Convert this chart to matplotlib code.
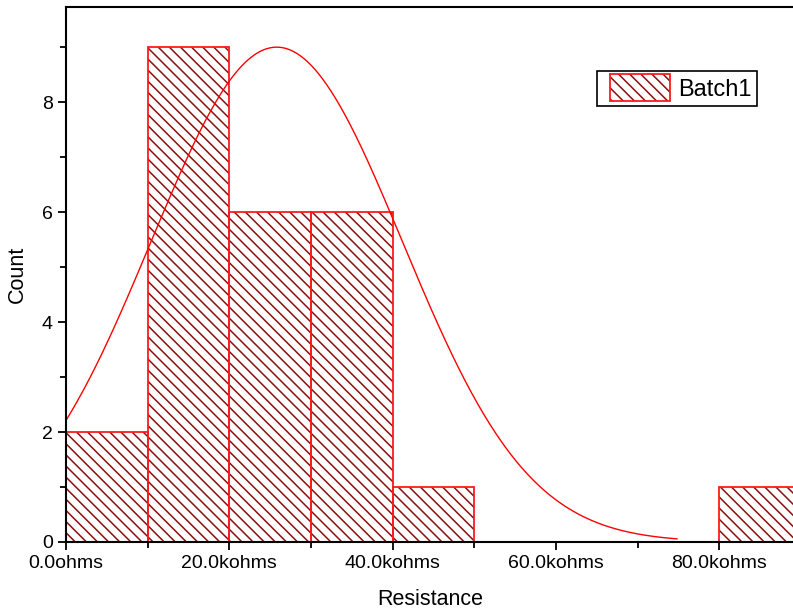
import numpy as np
import matplotlib.pyplot as plt
from matplotlib.patches import Rectangle
from matplotlib.ticker import MultipleLocator, FixedLocator, FixedFormatter

plt.rcParams['font.family'] = ['Liberation Sans', 'DejaVu Sans']
plt.rcParams['hatch.linewidth'] = 1.1

# histogram bins (kohms) and counts
bin_left = [0, 10, 20, 30, 40, 80]
bin_width = 10
counts = [2, 9, 6, 6, 1, 1]

# fitted normal curve parameters
fit_mean = 25.8
fit_sd = 15.4
fit_peak = 9.0
fit_range = (0, 74.8)

xtick_vals = [0, 20, 40, 60, 80]
xtick_labels = ["0.0ohms", "20.0kohms", "40.0kohms", "60.0kohms", "80.0kohms"]

HATCH_COLOR = '#8b0f0f'
EDGE_COLOR = '#ff1a1a'
HATCH = '\\\\\\'

fig = plt.figure(figsize=(7.93, 6.16), dpi=100)
ax = fig.add_axes([66 / 793, 74 / 616, 1 - 66 / 793 + 0.002, 535 / 616])

# hatched fill in dark red, outline in bright red
bars = ax.bar(bin_left, counts, width=bin_width, align='edge', facecolor='white',
              edgecolor=HATCH_COLOR, linewidth=0, hatch=HATCH, label='Batch1')
ax.bar(bin_left, counts, width=bin_width, align='edge', fill=False,
       edgecolor=EDGE_COLOR, linewidth=1.3)

xs = np.linspace(fit_range[0], fit_range[1], 400)
ys = fit_peak * np.exp(-(xs - fit_mean) ** 2 / (2 * fit_sd ** 2))
ax.plot(xs, ys, color='#ff0000', linewidth=1.0)

ax.set_xlim(0, 89.2)
ax.set_ylim(0, 9.73)

ax.xaxis.set_major_locator(FixedLocator(xtick_vals))
ax.xaxis.set_major_formatter(FixedFormatter(xtick_labels))
ax.xaxis.set_minor_locator(MultipleLocator(10))
ax.yaxis.set_major_locator(MultipleLocator(2))
ax.yaxis.set_minor_locator(MultipleLocator(1))

ax.tick_params(which='both', direction='out', width=1.3, labelsize=14, top=False, right=False)
ax.tick_params(which='major', length=6)
ax.tick_params(which='minor', length=4)
for s in ['left', 'bottom', 'top']:
    ax.spines[s].set_linewidth(1.5)
ax.spines['right'].set_visible(False)

ax.set_xlabel('Resistance', fontsize=15.5, labelpad=12)
ax.set_ylabel('Count', fontsize=15.5, labelpad=10)


class HatchHandler:
    # dark hatch with a bright red outline, like the bars
    def legend_artist(self, legend, orig_handle, fontsize, handlebox):
        off = 6
        x0 = -handlebox.xdescent + off
        y0 = -handlebox.ydescent - 1
        w = handlebox.width - off
        h = handlebox.height + 2
        tr = handlebox.get_transform()
        fill = Rectangle((x0, y0), w, h, facecolor='white', edgecolor=HATCH_COLOR,
                         linewidth=0, hatch=HATCH, transform=tr)
        edge = Rectangle((x0, y0), w, h, fill=False, edgecolor=EDGE_COLOR,
                         linewidth=1.3, transform=tr)
        handlebox.add_artist(fill)
        handlebox.add_artist(edge)
        return fill


leg = ax.legend(loc='upper left', bbox_to_anchor=(597 / 793, 1 - 71 / 616), bbox_transform=fig.transFigure,
                fontsize=17, fancybox=False, framealpha=1, edgecolor='black',
                handlelength=2.9, handleheight=1.2, borderpad=0.2, handletextpad=0.35, borderaxespad=0,
                handler_map={type(bars): HatchHandler()})
leg.get_frame().set_linewidth(1.2)

fig.savefig('out.png', dpi=100)
